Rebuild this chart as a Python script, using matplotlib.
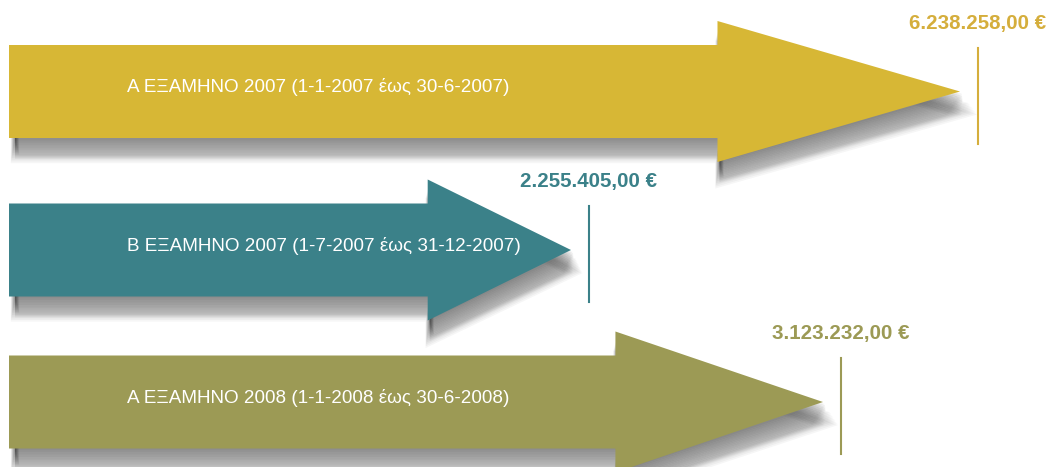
import matplotlib
matplotlib.use('Agg')
import matplotlib.pyplot as plt
from matplotlib.patches import FancyArrow

# Data
periods = ['Α ΕΞΑΜΗΝΟ 2007 (1-1-2007 έως 30-6-2007)',
           'Β ΕΞΑΜΗΝΟ 2007 (1-7-2007 έως 31-12-2007)',
           'Α ΕΞΑΜΗΝΟ 2008 (1-1-2008 έως 30-6-2008)']
amounts = [6238258.00, 2255405.00, 3123232.00]
# arrow reach as drawn in the original (not proportional to the amounts)
arrow_reach = [951, 562, 814]

colors = ['#D7B735', '#3B8189', '#9C9A55']
label_colors = ['#D5AE3C', '#3B8189', '#9C9A55']


def euro(v):
    s = '{:,.2f}'.format(v)
    return s.replace(',', 'X').replace('.', ',').replace('X', '.') + ' €'


fig = plt.figure(figsize=(10.54, 4.67), dpi=100)
ax = fig.add_axes([0, 0, 1, 1])
ax.set_xlim(0, 1054)
ax.set_ylim(467, 0)
ax.axis('off')

x0 = 9
y_centers = [91.5, 250, 402]
body_w = 93
head_w = 141

for i, (label, value, reach) in enumerate(zip(periods, amounts, arrow_reach)):
    yc = y_centers[i]
    head_len = 0.255 * reach

    # soft shadow: stacked, shifted copies fade out downwards
    for k in range(16):
        sh = FancyArrow(x0 + 6, yc + 2 + 1.4 * k, reach - 4, 0, width=body_w - 4,
                        head_width=head_w - 4, head_length=head_len,
                        length_includes_head=True, facecolor='black',
                        edgecolor='black', alpha=0.035, linewidth=0.4 * k,
                        zorder=1)
        ax.add_patch(sh)

    arr = FancyArrow(x0, yc, reach, 0, width=body_w, head_width=head_w,
                     head_length=head_len, length_includes_head=True,
                     facecolor=colors[i], edgecolor='none', zorder=2)
    ax.add_patch(arr)

    ax.text(127, yc - 4, label, color='white', fontsize=13.6,
            family='Liberation Sans', ha='left', va='center', zorder=3)

    xl = x0 + reach + 18
    ax.plot([xl, xl], [yc - 44, yc + 52], color=label_colors[i], lw=1.5, zorder=3)
    ax.text(xl, yc - 68, euro(value), color=label_colors[i], fontsize=14.8,
            fontweight='bold', family='Liberation Sans', ha='center', va='center',
            zorder=3)

fig.savefig('out.png', dpi=100)
